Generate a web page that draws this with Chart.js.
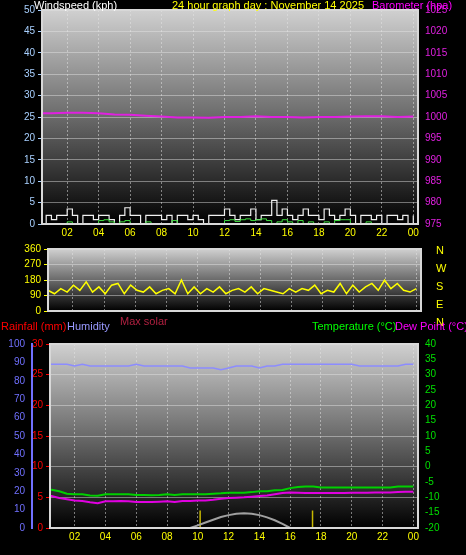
<!DOCTYPE html><html><head><script src="https://cdn.jsdelivr.net/npm/chart.js@4"></script>
<style>body{margin:0;background:#000;width:466px;height:555px;overflow:hidden;position:relative;font-family:"Liberation Sans",Arial,sans-serif}
canvas{position:absolute;left:0}.t{position:absolute;font-size:11px;white-space:nowrap;line-height:11px}</style></head><body>
<canvas id="c1" style="top:0px" width="466" height="242"></canvas>
<canvas id="c2" style="top:240px" width="466" height="80"></canvas>
<canvas id="c3" style="top:335px" width="466" height="220"></canvas>
<div class="t" style="left:34px;top:0;color:#fff">Windspeed (kph)</div>
<div class="t" style="left:172px;top:0;color:#ff0">24 hour graph day : November 14 2025</div>
<div class="t" style="left:372px;top:0;color:#f0f">Barometer (hpa)</div>
<div class="t" style="left:436px;top:241px;color:#ff0;line-height:18px">N<br>W<br>S<br>E<br>N</div>
<div class="t" style="left:120px;top:316px;color:#b02040">Max solar</div>
<div class="t" style="left:1px;top:321px;color:#f00">Rainfall (mm)</div>
<div class="t" style="left:67px;top:321px;color:#99f">Humidity</div>
<div class="t" style="left:312px;top:321px;color:#0f0">Temperature (°C)</div>
<div class="t" style="left:395px;top:321px;color:#f0f">Dew Point (°C)</div>
<script>
const hourTicks=[2,4,6,8,10,12,14,16,18,20,22,24];
const hourLabels=["02","04","06","08","10","12","14","16","18","20","22","00"];
const windGust=[2,0,2,1,2,2,3.5,2,0,2,2,1,2,2,1,0,2,3.8,2,2,0,2,2,2,1,2,0,2,2,1,2,1,0,2,2,2,3.5,2,1,2,2,3.5,1,2,2,5.5,2,3.5,2,1,2,3.5,2,2,1,3.5,2,1,2,3.5,2,0,2,2,1,2,0,2,2,1,2,0,2];
const windSpeed=[0,0,0,0,0,0,0.5,0,0,0,0,0,0.8,1,0.5,0,0.5,0.8,0,0,0,0.5,0,0,0,0,0.8,0,0,0,0,0,0,0,0,0,0.8,1,0.6,1,1.2,0.8,1,1.2,0.8,0,0.5,1,0.5,0,0.8,0,0.5,0,0,0.5,0,0.8,1,1,0,0,0,0.5,0,0,0,0,0,0,0,0,0];
const baroHours=[0,1,2,3,4,5,6,7,8,9,10,11,12,13,14,15,16,17,18,19,20,21,22,23,24];
const baro=[1000.9,1000.9,1001,1001,1000.9,1000.6,1000.5,1000.3,1000.1,999.9,999.9,999.8,1000,1000,1000.2,1000,1000,999.9,1000,1000,1000.1,1000.2,1000.2,1000,1000.1];
const windDir=[110,120,100,130,110,150,120,170,110,140,100,150,160,100,150,120,110,140,100,120,130,100,180,100,140,100,130,110,140,100,120,130,110,140,100,130,120,110,100,130,110,130,120,150,100,120,110,160,100,150,110,140,160,120,180,130,160,120,110,130];
const humidity=[89,89,89,89,88,89,88,88,88,88,88,88,89,88,88,88,88,88,88,87,87,87,87,86,87,88,88,88,87,88,88,89,89,89,89,89,89,89,89,89,89,88,88,88,88,88,88,89,89];
const temp=[-7.5,-7.5,-8,-8.8,-9,-9,-9.4,-9.5,-9,-9,-9,-9,-9.2,-9.2,-9.3,-9.2,-9,-9.2,-9,-9,-9,-9,-8.8,-8.7,-8.5,-8.5,-8.5,-8.3,-8,-8,-7.7,-7.6,-7,-6.6,-6.5,-6.5,-6.8,-6.8,-6.8,-6.8,-6.8,-6.8,-6.8,-6.8,-6.8,-6.8,-6.5,-6.5,-6.5];
const dewPoint=[-9.6,-9.6,-10.2,-10.6,-11,-11.2,-11.6,-11.9,-11.3,-11.3,-11.2,-11.3,-11.5,-11.5,-11.5,-11.4,-11.3,-11.5,-11.2,-11.2,-11,-11,-10.8,-10.5,-10.2,-10.1,-10,-9.8,-9.6,-9.4,-9,-8.6,-8.4,-8.5,-8.6,-8.6,-8.6,-8.6,-8.6,-8.6,-8.5,-8.5,-8.5,-8.4,-8.4,-8.4,-8.3,-8.2,-8.2];
const solarHours=[9.5,10,10.5,11,11.5,12,12.5,13,13.5,14,14.5,15,15.5,16];
const maxSolar=[0,1.4,3,4.5,6,7,7.7,8,7.8,7,5.8,4.2,2.2,0];
const rainHours=[0,10,10,16,16,20.3,20.3,24];
const rain=[0,0,0.05,0.05,0,0,0.15,0.15];
const sunriseSunset=[10.15,17.45];

const byIdx=(a)=>a.map((v,i)=>({x:i*24/(a.length-1),y:v}));
const pair=(xs,ys)=>xs.map((x,i)=>({x,y:ys[i]}));
const bg={id:'bg',beforeDraw(c){const a=c.chartArea,x=c.ctx;const g=x.createLinearGradient(0,a.top,0,a.bottom);g.addColorStop(0,'#d0d0d0');g.addColorStop(0.5,'#6a6a6a');g.addColorStop(1,'#000');x.fillStyle=g;x.fillRect(a.left,a.top,a.right-a.left,a.bottom-a.top);},
 afterDraw(c){const a=c.chartArea,x=c.ctx;x.strokeStyle='#d8d8d8';x.lineWidth=2;x.strokeRect(a.left,a.top,a.right-a.left,a.bottom-a.top);}};
const F={family:'"Liberation Sans",Arial,sans-serif',size:10};
function xAxis(show,h){return {type:'linear',min:0.4,max:24.3,afterBuildTicks:s=>{s.ticks=hourTicks.map(v=>({value:v}))},
 afterFit:s=>{s.height=h},
 ticks:{display:show,color:'#ff0',font:F,padding:3,maxRotation:0,callback:(v)=>hourLabels[hourTicks.indexOf(v)]},
 grid:{color:'rgba(230,230,230,0.5)',drawTicks:false},border:{dash:[2,2],display:false}};}
function yAx(pos,min,max,step,color,w,grid){return {position:pos,min,max,afterFit:s=>{s.width=w},
 ticks:{stepSize:step,color,font:F,padding:3,callback:v=>String(v)},grid:{display:grid,color:'rgba(230,230,230,0.45)',tickColor:color,tickLength:4},border:{color,width:2,dash:[]}};}
const common={animation:false,responsive:false,plugins:{legend:{display:false},tooltip:{enabled:false}},elements:{point:{radius:0}}};

new Chart(c1,{type:'line',plugins:[bg],data:{datasets:[
 {data:byIdx(windSpeed),borderColor:'#40e040',borderWidth:1,stepped:true,yAxisID:'y'},
 {data:byIdx(windGust),borderColor:'#f0f0f0',borderWidth:1.2,stepped:true,yAxisID:'y'},
 {data:pair(baroHours,baro),borderColor:'#e020e0',borderWidth:2,yAxisID:'y1'}]},
 options:{...common,layout:{padding:{top:10}},scales:{x:xAxis(true,18),
  y:yAx('left',0,50,5,'#a8d0ff',42,true),y1:yAx('right',975,1025,5,'#e020e0',48,false)}}});

new Chart(c2,{type:'line',plugins:[bg],data:{datasets:[{data:byIdx(windDir),borderColor:'#ffff00',borderWidth:1.5}]},
 options:{...common,layout:{padding:{top:5,right:45,bottom:8}},scales:{x:xAxis(false,0),
  y:yAx('left',0,360,90,'#ff0',48,true)}}});

new Chart(c3,{type:'line',plugins:[bg],data:{datasets:[
 {data:pair([0.4,24],[0,0]),borderColor:'#ff9090',borderWidth:2,yAxisID:'r'},
 {data:pair(solarHours,maxSolar),borderColor:'#a0a0a0',borderWidth:2,yAxisID:'h'},
 {data:pair(rainHours,rain),borderColor:'#ff0000',borderWidth:2.5,yAxisID:'r'},
 {data:pair([sunriseSunset[0],sunriseSunset[0]],[0,9.5]),borderColor:'#c8b800',borderWidth:1.5,yAxisID:'h'},
 {data:pair([sunriseSunset[1],sunriseSunset[1]],[0,9.5]),borderColor:'#c8b800',borderWidth:1.5,yAxisID:'h'},
 {data:byIdx(humidity),borderColor:'#8c8cff',borderWidth:1.5,yAxisID:'h'},
 {data:byIdx(temp),borderColor:'#00d000',borderWidth:2,yAxisID:'t'},
 {data:byIdx(dewPoint),borderColor:'#e000e0',borderWidth:2,yAxisID:'t'}]},
 options:{...common,layout:{padding:{top:3}},scales:{x:xAxis(true,27),
  r:yAx('left',0,30,5,'#ff0000',18,true),h:yAx('left',0,100,10,'#7070ff',32,false),
  t:yAx('right',-20,40,5,'#00e000',48,false)}}});
</script></body></html>
